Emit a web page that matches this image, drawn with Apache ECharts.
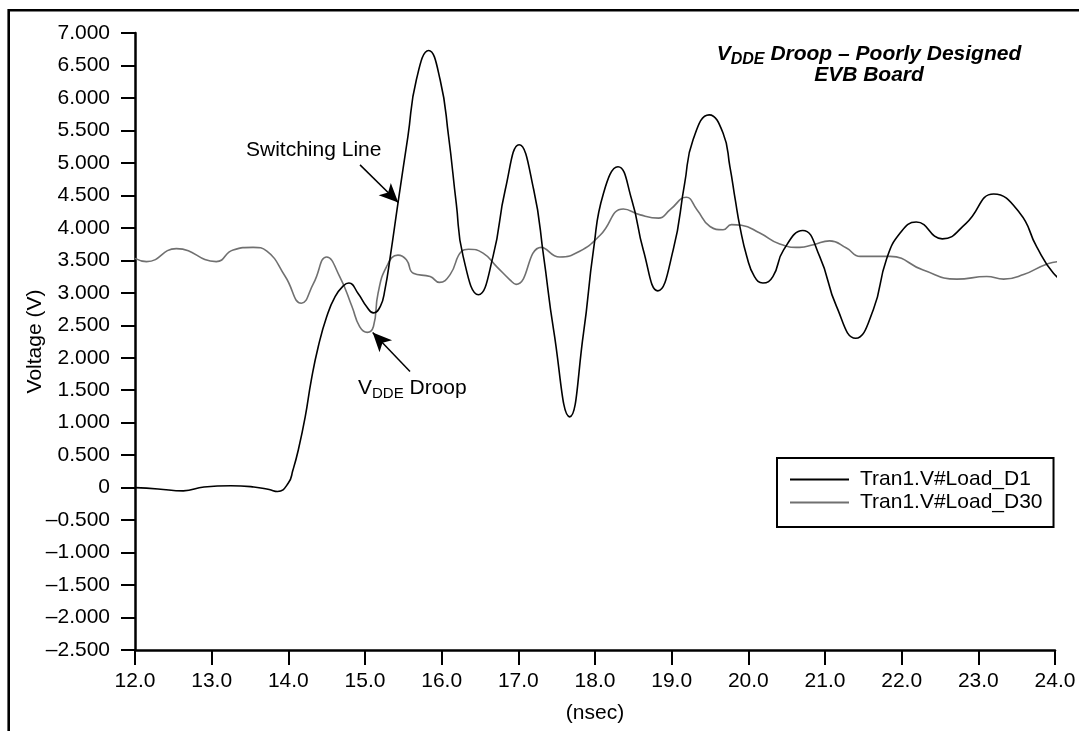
<!DOCTYPE html>
<html><head><meta charset="utf-8">
<script src="https://cdn.jsdelivr.net/npm/echarts@6/dist/echarts.min.js"></script>
<style>html,body{margin:0;padding:0;background:#fff}#c{width:1079px;height:731px}</style>
</head><body><div id="c"></div>
<script>
// ---- data (time in nsec, voltage in V) ----
const d1Time = [12.00,12.30,12.63,12.90,13.25,13.55,13.75,13.86,14.00,14.06,14.13,14.22,14.30,14.39,14.50,14.61,14.72,14.79,14.91,15.02,15.11,15.20,15.26,15.33,15.43,15.56,15.67,15.83,15.98,16.09,16.19,16.28,16.48,16.67,16.83,17.01,17.20,17.33,17.46,17.67,17.85,17.98,18.11,18.30,18.48,18.63,18.82,19.02,19.17,19.28,19.49,19.67,19.76,19.83,19.89,19.98,20.08,20.19,20.32,20.46,20.71,20.93,21.15,21.40,21.63,21.80,21.98,22.19,22.53,22.84,23.20,23.54,23.76,23.98,24.15];
const d1Volt = [0.00,-0.02,-0.05,0.01,0.03,0.01,-0.03,-0.06,0.07,0.27,0.58,1.09,1.66,2.17,2.63,2.94,3.11,3.15,2.99,2.79,2.69,2.79,3.05,3.56,4.38,5.41,6.28,6.73,6.28,5.41,4.38,3.56,2.97,3.56,4.59,5.28,4.59,3.56,2.43,1.09,2.38,3.66,4.53,4.94,4.43,3.66,3.03,3.66,4.69,5.36,5.74,5.46,4.94,4.43,4.02,3.56,3.25,3.15,3.25,3.66,3.96,3.56,2.79,2.30,2.74,3.51,3.92,4.09,3.83,4.07,4.52,4.23,3.71,3.30,3.16];
const d30Time = [12.00,12.15,12.54,13.06,13.28,13.54,13.72,13.96,14.17,14.33,14.50,14.67,14.83,14.93,15.03,15.11,15.17,15.28,15.43,15.54,15.63,15.85,15.97,16.11,16.26,16.35,16.54,16.72,16.89,16.97,17.30,17.54,17.80,18.07,18.37,18.59,18.83,18.98,19.19,19.33,19.50,19.67,19.78,19.91,20.15,20.41,20.67,20.85,21.06,21.28,21.46,21.85,22.28,22.72,23.11,23.33,23.59,23.89,24.07,24.17];
const d30Volt = [3.53,3.48,3.68,3.48,3.66,3.70,3.64,3.25,2.84,3.15,3.55,3.25,2.79,2.48,2.39,2.48,2.99,3.40,3.58,3.51,3.30,3.25,3.16,3.28,3.64,3.67,3.61,3.40,3.20,3.13,3.70,3.55,3.64,3.89,4.29,4.20,4.15,4.28,4.47,4.28,4.02,3.97,4.05,4.04,3.92,3.75,3.70,3.74,3.80,3.69,3.56,3.56,3.35,3.21,3.25,3.21,3.28,3.44,3.48,3.48];
const seriesNames = ['Tran1.V#Load_D1', 'Tran1.V#Load_D30'];
const xRange = [12, 24, 1];
const yRange = [-2.5, 7, 0.5];
// annotation arrows: [start, tip] in data coordinates
const switchArrow = [[14.935, 4.97], [15.434, 4.39]];
const droopArrow = [[15.587, 1.787], [15.10, 2.39]];

const FONT = '"Liberation Sans", Arial, Helvetica, sans-serif';
const zip = (a, b) => a.map((t, i) => [t, b[i]]);

const chart = echarts.init(document.getElementById('c'), null, {renderer: 'canvas'});
const subRich = (size, weight, style) => ({
  m: {fontSize: 21, lineHeight: 26, fontWeight: weight, fontStyle: style, fontFamily: FONT, color: '#000'},
  s: {fontSize: size, padding: [11, 0, 0, 0], verticalAlign: 'top', fontWeight: weight, fontStyle: style, fontFamily: FONT, color: '#000'}
});

chart.setOption({
  animation: false,
  backgroundColor: '#fff',
  grid: {left: 135, right: 24, top: 33, bottom: 81, containLabel: false},
  xAxis: {
    type: 'value', min: xRange[0], max: xRange[1], interval: xRange[2],
    name: '(nsec)', nameLocation: 'middle', nameGap: 53, nameMoveOverlap: false,
    nameTextStyle: {fontSize: 21, color: '#000', fontFamily: FONT},
    axisLine: {onZero: false, lineStyle: {color: '#000', width: 2.5}},
    axisTick: {length: 15, lineStyle: {color: '#000', width: 2}},
    axisLabel: {margin: 21, fontSize: 21, color: '#000', fontFamily: FONT, formatter: v => v.toFixed(1)},
    splitLine: {show: false}
  },
  yAxis: {
    type: 'value', min: yRange[0], max: yRange[1], interval: yRange[2],
    name: 'Voltage (V)', nameLocation: 'middle', nameGap: 89, nameRotate: 90, nameMoveOverlap: false,
    nameTextStyle: {fontSize: 21, color: '#000', fontFamily: FONT},
    axisLine: {show: true, onZero: false, lineStyle: {color: '#000', width: 2.5}},
    axisTick: {show: true, length: 14, lineStyle: {color: '#000', width: 2}},
    axisLabel: {margin: 25, fontSize: 21, color: '#000', fontFamily: FONT,
      formatter: v => v === 0 ? '0' : (v < 0 ? '\u2013' + Math.abs(v).toFixed(3) : v.toFixed(3))},
    splitLine: {show: false}
  },
  legend: {
    orient: 'vertical', left: 777, top: 458,
    padding: [11, 11, 14, 13], itemGap: 2, itemWidth: 59, itemHeight: 2, icon: 'rect',
    borderColor: '#000', borderWidth: 2,
    textStyle: {fontSize: 21, color: '#000', fontFamily: FONT, padding: [0, 0, 0, 6]},
    data: seriesNames
  },
  series: [
    {
      name: seriesNames[0], type: 'line', data: zip(d1Time, d1Volt), smooth: 0.5,
      showSymbol: false, symbol: 'none', clip: false, color: '#000',
      lineStyle: {color: '#000', width: 1.6}, z: 3,
      markLine: {
        silent: true, symbol: ['none', 'arrow'], symbolSize: [13, 19], animation: false,
        label: {show: false}, emphasis: {disabled: true},
        lineStyle: {color: '#000', width: 1.5, type: 'solid'},
        data: [
          [{coord: switchArrow[0]}, {coord: switchArrow[1]}],
          [{coord: droopArrow[0]}, {coord: droopArrow[1]}]
        ]
      }
    },
    {
      name: seriesNames[1], type: 'line', data: zip(d30Time, d30Volt), smooth: 0.5,
      showSymbol: false, symbol: 'none', clip: false, color: '#707070',
      lineStyle: {color: '#707070', width: 1.6}, z: 2
    }
  ],
  graphic: [
    {type: 'rect', silent: true, shape: {x: 8.7, y: 10.3, width: 1200, height: 900},
     style: {fill: 'none', stroke: '#000', lineWidth: 2.6}},
    {type: 'text', silent: true, x: 869, y: 54,
     style: {text: '{m|V}{s|DDE}{m| Droop \u2013 Poorly Designed}', align: 'center', verticalAlign: 'middle',
             rich: subRich(16, 'bold', 'italic')}},
    {type: 'text', silent: true, x: 869, y: 75,
     style: {text: 'EVB Board', align: 'center', verticalAlign: 'middle',
             font: 'italic bold 21px ' + FONT, fill: '#000'}},
    {type: 'text', silent: true, x: 246, y: 150,
     style: {text: 'Switching Line', align: 'left', verticalAlign: 'middle',
             font: '21px ' + FONT, fill: '#000'}},
    {type: 'text', silent: true, x: 358, y: 388,
     style: {text: '{m|V}{s|DDE}{m| Droop}', align: 'left', verticalAlign: 'middle',
             rich: subRich(15, 'normal', 'normal')}}
  ]
});
</script></body></html>
